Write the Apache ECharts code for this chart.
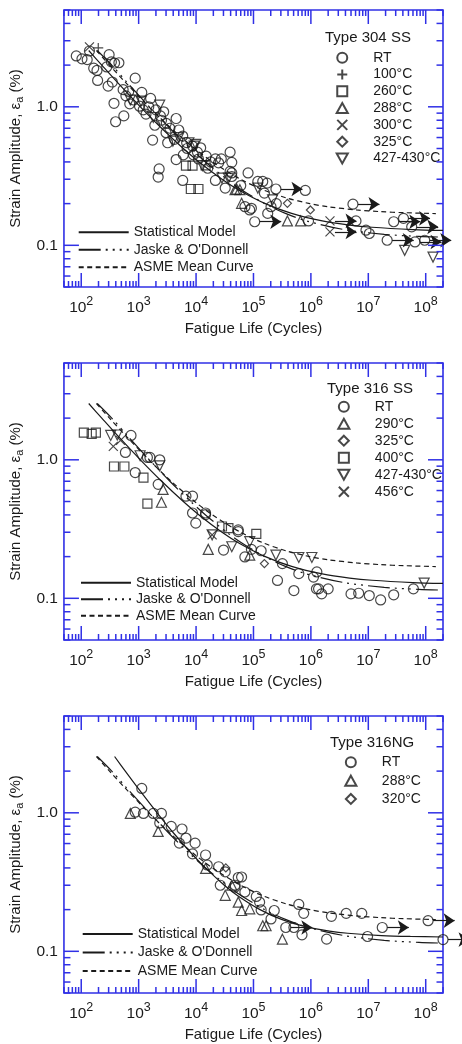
<!DOCTYPE html>
<html><head><meta charset="utf-8">
<script src="https://cdn.jsdelivr.net/npm/echarts@6/dist/echarts.min.js"></script>
<style>html,body{margin:0;padding:0;background:#fff}#c{width:462px;height:1044px}</style>
</head><body><div id="c"></div>
<script>
// ---------------- DATA ----------------
const panelTitles = ['Type 304 SS', 'Type 316 SS', 'Type 316NG'];
const xMajorTicks = [1e2, 1e3, 1e4, 1e5, 1e6, 1e7, 1e8];
const yMajorTicks = [0.1, 1];
const minorMultipliers = [2, 3, 4, 5, 6, 7, 8, 9];

// Curves (N, strain amplitude %)
const statN = [135, 228, 427, 1071, 2516, 5996, 11270, 28330, 56370, 161000, 462000, 1580000, 4720000, 11600000, 60000000, 200000000];
const statE = [2.55, 2.0, 1.5, 1.0, 0.7, 0.5, 0.4, 0.3, 0.25, 0.2, 0.17, 0.15, 0.14, 0.135, 0.13, 0.128];
const jaskeN = [190, 340, 629, 1538, 3500, 8050, 14620, 34250, 63600, 157000, 360000, 840000, 3740000, 19000000, 76000000, 200000000];
const jaskeE = [2.55, 2.0, 1.5, 1.0, 0.7, 0.5, 0.4, 0.3, 0.25, 0.2, 0.17, 0.15, 0.13, 0.12, 0.116, 0.1145];
const asmeN = [184, 311, 590, 1508, 3680, 9450, 19270, 59200, 152000, 373000, 960000, 1980000, 6200000, 16400000, 42000000, 150000000];
const asmeE = [2.55, 2.0, 1.5, 1.0, 0.7, 0.5, 0.4, 0.3, 0.25, 0.22, 0.2, 0.19, 0.18, 0.175, 0.172, 0.1695];
const statNG_N = [381, 585, 983, 2095, 4227, 8650, 14550, 31050, 54700, 130000, 308000, 850000, 2100000, 4380000, 17000000, 54000000, 200000000];
const statNG_E = [2.55, 2.0, 1.5, 1.0, 0.7, 0.5, 0.4, 0.3, 0.25, 0.2, 0.17, 0.15, 0.14, 0.135, 0.13, 0.128, 0.1269];

// Panel 1: Type 304 SS
const p1_RT = [[82,2.33],[103,2.22],[127,2.19],[139,2.53],[165,1.90],[193,1.55],[188,1.83],[278,1.94],[306,2.38],[335,2.11],[381,2.07],[453,2.08],[294,1.41],[348,1.51],[372,1.06],[552,0.86],[397,0.78],[537,1.33],[672,1.29],[871,1.61],[818,1.12],[1035,1.01],[1134,1.27],[1343,0.885],[1616,1.15],[1750,0.575],[1914,0.736],[2396,0.86],[2729,0.92],[3035,0.76],[4500,0.823],[5003,0.68],[4207,0.582],[5856,0.615],[6855,0.551],[8680,0.52],[10570,0.47],[12030,0.506],[21730,0.421],[27500,0.421],[39170,0.47],[41880,0.397],[2275,0.356],[2188,0.311],[5856,0.294],[4500,0.416],[24720,0.394],[21730,0.294],[32200,0.259],[41880,0.333],[39170,0.342],[41880,0.314],[80540,0.333],[119000,0.289],[145000,0.289],[173000,0.281],[800000,0.249],[92000,0.185],[177000,0.170],[202000,0.190],[155000,0.238],[910000,0.150],[6100000,0.150],[9100000,0.1286],[10400000,0.1217],[71000,0.190],[86000,0.180],[1500,1.0],[2000,0.95],[2500,0.8],[3500,0.7],[3000,0.65],[7000,0.5],[9000,0.45],[15000,0.44],[18000,0.40],[600,1.2],[700,1.05],[1200,0.95],[3200,0.55],[6000,0.45],[11000,0.42],[16000,0.36],[60000,0.27],[250000,0.2]];
const p1_RT_runout = [[246000,0.255],[105000,0.148],[5400000,0.198],[21300000,0.1088],[27700000,0.148],[41000000,0.1565],[57000000,0.136],[65000000,0.1057],[96000000,0.1088]];
const p1_100 = [[198,2.66]];
const p1_260 = [[6670,0.376],[8680,0.376],[14650,0.378],[8110,0.255],[10990,0.255]];
const p1_288 = [[62100,0.201],[47730,0.252],[51000,0.255],[390000,0.150],[660000,0.150],[58000,0.252]];
const p1_300 = [[139,2.71]];
const p1_300_runout = [[2150000,0.150],[2150000,0.125]];
const p1_325 = [[390000,0.201],[980000,0.180]];
const p1_427 = [[2330,1.03],[1800,0.837],[3950,0.565],[9890,0.535],[716,1.12],[9250,0.52],[12860,0.376],[28250,0.306],[36600,0.306],[119000,0.259],[215000,0.213],[43000000,0.092],[134000000,0.0822],[1100,1.1],[5000,0.6],[7500,0.55]];

// Panel 2: Type 316 SS
const p2_RT = [[736,1.50],[588,1.13],[871,0.809],[1572,1.04],[1420,1.04],[2330,1.0],[2188,0.665],[6670,0.546],[8680,0.546],[14650,0.413],[9890,0.349],[30100,0.223],[8680,0.413],[14650,0.402],[54300,0.303],[70800,0.199],[54300,0.312],[92000,0.2256],[136000,0.2205],[262000,0.1346],[319000,0.178],[506000,0.1138],[616000,0.1507],[1110000,0.1423],[1270000,0.155],[1360000,0.117],[1250000,0.117],[1540000,0.1076],[2000000,0.117],[5000000,0.1076],[6800000,0.1088],[10400000,0.1047],[16400000,0.0973],[27700000,0.106],[61000000,0.117]];
const p2_290 = [[2494,0.494],[2665,0.611],[16300,0.2256],[86100,0.205]];
const p2_325 = [[155000,0.178]];
const p2_400 = [[111,1.57],[152,1.54],[180,1.57],[372,0.895],[565,0.895],[1420,0.483],[1213,0.744],[28250,0.33],[112000,0.292],[36600,0.321]];
const p2_427 = [[326,1.50],[424,1.51],[1061,1.07],[2330,0.904],[19060,0.287],[41900,0.2356],[86100,0.2564],[246000,0.205],[616000,0.197],[1040000,0.197],[94000000,0.1287]];
const p2_456 = [[362,1.25],[483,1.38],[19060,0.287]];

// Panel 3: Type 316NG
const p3_RT = [[1134,1.50],[871,1.01],[1213,0.989],[1800,0.989],[2494,0.989],[2330,0.845],[3694,0.798],[5697,0.764],[6670,0.657],[5120,0.604],[9620,0.604],[8680,0.505],[14650,0.496],[15660,0.42],[24720,0.408],[26420,0.30],[47730,0.30],[62100,0.344],[32200,0.375],[54300,0.341],[47730,0.291],[70800,0.268],[112000,0.249],[128000,0.2265],[136000,0.199],[230000,0.197],[202000,0.1713],[616000,0.218],[750000,0.188],[506000,0.1486],[700000,0.1315],[1880000,0.1224],[2280000,0.179],[4120000,0.188],[7700000,0.188],[9700000,0.1279]];
const p3_RT_runout = [[365000,0.1486],[17500000,0.1486],[110000000,0.1664],[200000000,0.1216]];
const p3_288 = [[716,0.989],[2188,0.734],[14650,0.397],[41900,0.30],[32200,0.2535],[54300,0.2265],[62100,0.197],[86100,0.2027],[145000,0.153],[166000,0.153],[319000,0.1224]];
const p3_320 = [[33000,0.40]];

// ---------------- STYLE / LAYOUT ----------------
const FONT = '"Liberation Sans", Arial, sans-serif';
const BLUE = '#3030e6';
const INK = '#1a1a1a';
const gridTops = [10, 363, 716];
const GRID_LEFT = 56, GRID_W = 387, GRID_H = 277;

const SYM = {
  circle: 'circle',
  plus: 'path://M5,0L5,10M0,5L10,5',
  square: 'path://M0,0L10,0L10,10L0,10Z',
  tri: 'path://M5,0L10,9L0,9Z',
  cross: 'path://M0,0L10,10M10,0L0,10',
  diamond: 'path://M5,0L10,5L5,10L0,5Z',
  triDown: 'path://M0,0L10,0L5,9Z'
};
const SIZE = { circle: 10, plus: 10, square: 9, tri: 10, cross: 9, diamond: 8, triDown: 10 };
const ARROW_START = 1.22, ARROW_END = 2.9;

function scat(name, data, sym, gi) {
  return { type: 'scatter', name, data, symbol: SYM[sym], symbolSize: SIZE[sym],
    xAxisIndex: gi, yAxisIndex: gi, clip: false, silent: true, z: 4,
    itemStyle: { color: 'rgba(255,255,255,0)', borderColor: INK, borderWidth: 1.2 } };
}
function arrows(data, gi) {
  return { type: 'lines', coordinateSystem: 'cartesian2d', xAxisIndex: gi, yAxisIndex: gi,
    silent: true, clip: false, z: 5, symbol: ['none', 'arrow'], symbolSize: 11,
    lineStyle: { color: INK, width: 1.2, opacity: 1, curveness: 0 },
    data: data.map(d => ({ coords: [[d[0] * ARROW_START, d[1]], [d[0] * ARROW_END, d[1]]] })) };
}
function curve(name, N, E, dash, gi) {
  return { type: 'line', name, data: N.map((n, i) => [n, E[i]]), symbol: 'none', showSymbol: false,
    smooth: 0.3, xAxisIndex: gi, yAxisIndex: gi, z: 3, silent: true, clip: false,
    itemStyle: { color: INK }, lineStyle: { color: INK, width: 1.2, type: dash } };
}
const DASH_SOLID = 'solid';
const DASH_JASKE = [22, 5, 2, 5, 2, 5, 2, 5];
const DASH_ASME = [5, 3.5];

function tickData(majors, which) {
  const out = [];
  majors.forEach(m => out.push(which === 'x' ? [m, 1, 1] : [100, m, 1]));
  const decades = which === 'x' ? [10, 1e2, 1e3, 1e4, 1e5, 1e6, 1e7, 1e8] : [0.01, 0.1, 1];
  decades.forEach(d => minorMultipliers.forEach(k => {
    const v = d * k;
    if (which === 'x' && v >= 50 && v <= 2e8) out.push([v, 1, 0]);
    if (which === 'y' && v >= 0.05 && v <= 5) out.push([100, v, 0]);
  }));
  return out;
}
function ticks(gi, which) {
  return { type: 'custom', xAxisIndex: gi, yAxisIndex: gi, silent: true, clip: false, z: 6,
    data: tickData(which === 'x' ? xMajorTicks : yMajorTicks, which),
    renderItem: function (params, api) {
      const cs = params.coordSys;
      const maj = api.value(2) === 1;
      const st = { stroke: BLUE, lineWidth: 1.5 };
      if (which === 'x') {
        const x = api.coord([api.value(0), 1])[0];
        const len = maj ? 14 : 6;
        const bot = cs.y + cs.height, top = cs.y;
        return { type: 'group', children: [
          { type: 'line', shape: { x1: x, y1: bot, x2: x, y2: bot - len }, style: st },
          { type: 'line', shape: { x1: x, y1: top, x2: x, y2: top + len }, style: st } ] };
      } else {
        const y = api.coord([100, api.value(1)])[1];
        const len = maj ? 15 : 6.5;
        const l = cs.x, r = cs.x + cs.width;
        return { type: 'group', children: [
          { type: 'line', shape: { x1: l, y1: y, x2: l + len, y2: y }, style: st },
          { type: 'line', shape: { x1: r, y1: y, x2: r - len, y2: y }, style: st } ] };
      }
    } };
}

const grids = [], xAxes = [], yAxes = [], series = [], legends = [], titles = [];
const titlePos = [[325, 29], [327, 380], [330, 734]];
// [left edge of legend symbols, top, row height]
const symLegendPos = [[335.7, 49.3, 16.8], [337.3, 398.2, 17], [344.3, 753.2, 18.3]];
const lineLegendPos = [[77.7, 223.6, 17.5], [80, 574.5, 16.5], [81.7, 924.8, 18.5]];

for (let gi = 0; gi < 3; gi++) {
  grids.push({ left: GRID_LEFT, top: gridTops[gi], width: GRID_W, height: GRID_H, show: true,
    borderColor: BLUE, borderWidth: 1.6, backgroundColor: 'transparent', containLabel: false });
  xAxes.push({ type: 'log', logBase: 10, gridIndex: gi, min: 50, max: 2e8,
    axisLine: { show: false }, axisTick: { show: false }, splitLine: { show: false }, minorTick: { show: false },
    axisLabel: { margin: 8, color: INK, fontSize: 15.5, fontFamily: FONT,
      formatter: v => { const e = Math.round(Math.log10(v)); return Math.abs(Math.log10(v) - e) < 1e-6 && e >= 2 && e <= 8 ? '10{s|' + e + '}' : ''; },
      rich: { s: { fontSize: 12.5, fontFamily: FONT, color: INK, padding: [0, 0, 13, 0] } } },
    name: 'Fatigue Life (Cycles)', nameLocation: 'middle', nameGap: 34,
    nameTextStyle: { fontSize: 15, color: INK, fontFamily: FONT } });
  yAxes.push({ type: 'log', logBase: 10, gridIndex: gi, min: 0.05, max: 5,
    axisLine: { show: false }, axisTick: { show: false }, splitLine: { show: false }, minorTick: { show: false },
    axisLabel: { margin: 6, color: INK, fontSize: 15.5, fontFamily: FONT,
      formatter: v => Math.abs(v - 0.1) < 1e-6 ? '0.1' : (Math.abs(v - 1) < 1e-6 ? '1.0' : '') },
    name: 'Strain Amplitude, ε{b|a} (%)', nameLocation: 'middle', nameRotate: 90, nameGap: 27,
    nameTextStyle: { fontSize: 15, color: INK, fontFamily: FONT,
      rich: { b: { fontSize: 11, color: INK, fontFamily: FONT, padding: [9, 0, 0, 0] } } } });
  series.push(ticks(gi, 'x'), ticks(gi, 'y'));
  titles.push({ text: panelTitles[gi], left: titlePos[gi][0], top: titlePos[gi][1], padding: 0,
    textStyle: { fontSize: 15, fontWeight: 'normal', color: INK, fontFamily: FONT, lineHeight: 18 } });
}

const tag = (s, gi) => s + '#' + (gi + 1);
// curves
[0, 1, 2].forEach(gi => {
  series.push(curve(tag('Statistical Model', gi), gi === 2 ? statNG_N : statN, gi === 2 ? statNG_E : statE, DASH_SOLID, gi));
  series.push(curve(tag("Jaske & O'Donnell", gi), jaskeN, jaskeE, DASH_JASKE, gi));
  series.push(curve(tag('ASME Mean Curve', gi), asmeN, asmeE, DASH_ASME, gi));
});

// panel 1
series.push(scat(tag('RT', 0), p1_RT, 'circle', 0), scat(tag('RT', 0), p1_RT_runout, 'circle', 0), arrows(p1_RT_runout, 0));
series.push(scat(tag('100°C', 0), p1_100, 'plus', 0));
series.push(scat(tag('260°C', 0), p1_260, 'square', 0));
series.push(scat(tag('288°C', 0), p1_288, 'tri', 0));
series.push(scat(tag('300°C', 0), p1_300, 'cross', 0), scat(tag('300°C', 0), p1_300_runout, 'cross', 0), arrows(p1_300_runout, 0));
series.push(scat(tag('325°C', 0), p1_325, 'diamond', 0));
series.push(scat(tag('427-430°C', 0), p1_427, 'triDown', 0));
// panel 2
series.push(scat(tag('RT', 1), p2_RT, 'circle', 1));
series.push(scat(tag('290°C', 1), p2_290, 'tri', 1));
series.push(scat(tag('325°C', 1), p2_325, 'diamond', 1));
series.push(scat(tag('400°C', 1), p2_400, 'square', 1));
series.push(scat(tag('427-430°C', 1), p2_427, 'triDown', 1));
series.push(scat(tag('456°C', 1), p2_456, 'cross', 1));
// panel 3
series.push(scat(tag('RT', 2), p3_RT, 'circle', 2), scat(tag('RT', 2), p3_RT_runout, 'circle', 2), arrows(p3_RT_runout, 2));
series.push(scat(tag('288°C', 2), p3_288, 'tri', 2));
series.push(scat(tag('320°C', 2), p3_320, 'diamond', 2));

const symLegendNames = [
  ['RT', '100°C', '260°C', '288°C', '300°C', '325°C', '427-430°C'],
  ['RT', '290°C', '325°C', '400°C', '427-430°C', '456°C'],
  ['RT', '288°C', '320°C']
];
const lineLegendNames = ['Statistical Model', "Jaske & O'Donnell", 'ASME Mean Curve'];
for (let gi = 0; gi < 3; gi++) {
  const [sl, st, sh] = symLegendPos[gi];
  legends.push({ left: sl, top: st, orient: 'vertical', padding: 0, itemGap: 0, itemWidth: 52, itemHeight: 10,
    selectedMode: false, data: symLegendNames[gi].map(n => tag(n, gi)), formatter: n => n.split('#')[0],
    textStyle: { fontSize: 14, color: INK, fontFamily: FONT, lineHeight: sh } });
  const [ll, lt, lh] = lineLegendPos[gi];
  legends.push({ left: ll, top: lt, orient: 'vertical', padding: 0, itemGap: 0, itemWidth: 50, itemHeight: 12,
    selectedMode: false, data: lineLegendNames.map(n => tag(n, gi)), formatter: n => n.split('#')[0],
    itemStyle: { opacity: 0 },
    textStyle: { fontSize: 14, color: INK, fontFamily: FONT, lineHeight: lh } });
}

const chart = echarts.init(document.getElementById('c'), null, { renderer: 'canvas' });
chart.setOption({
  animation: false,
  backgroundColor: '#fff',
  textStyle: { fontFamily: FONT },
  title: titles, grid: grids, xAxis: xAxes, yAxis: yAxes, legend: legends, series
});
</script></body></html>
